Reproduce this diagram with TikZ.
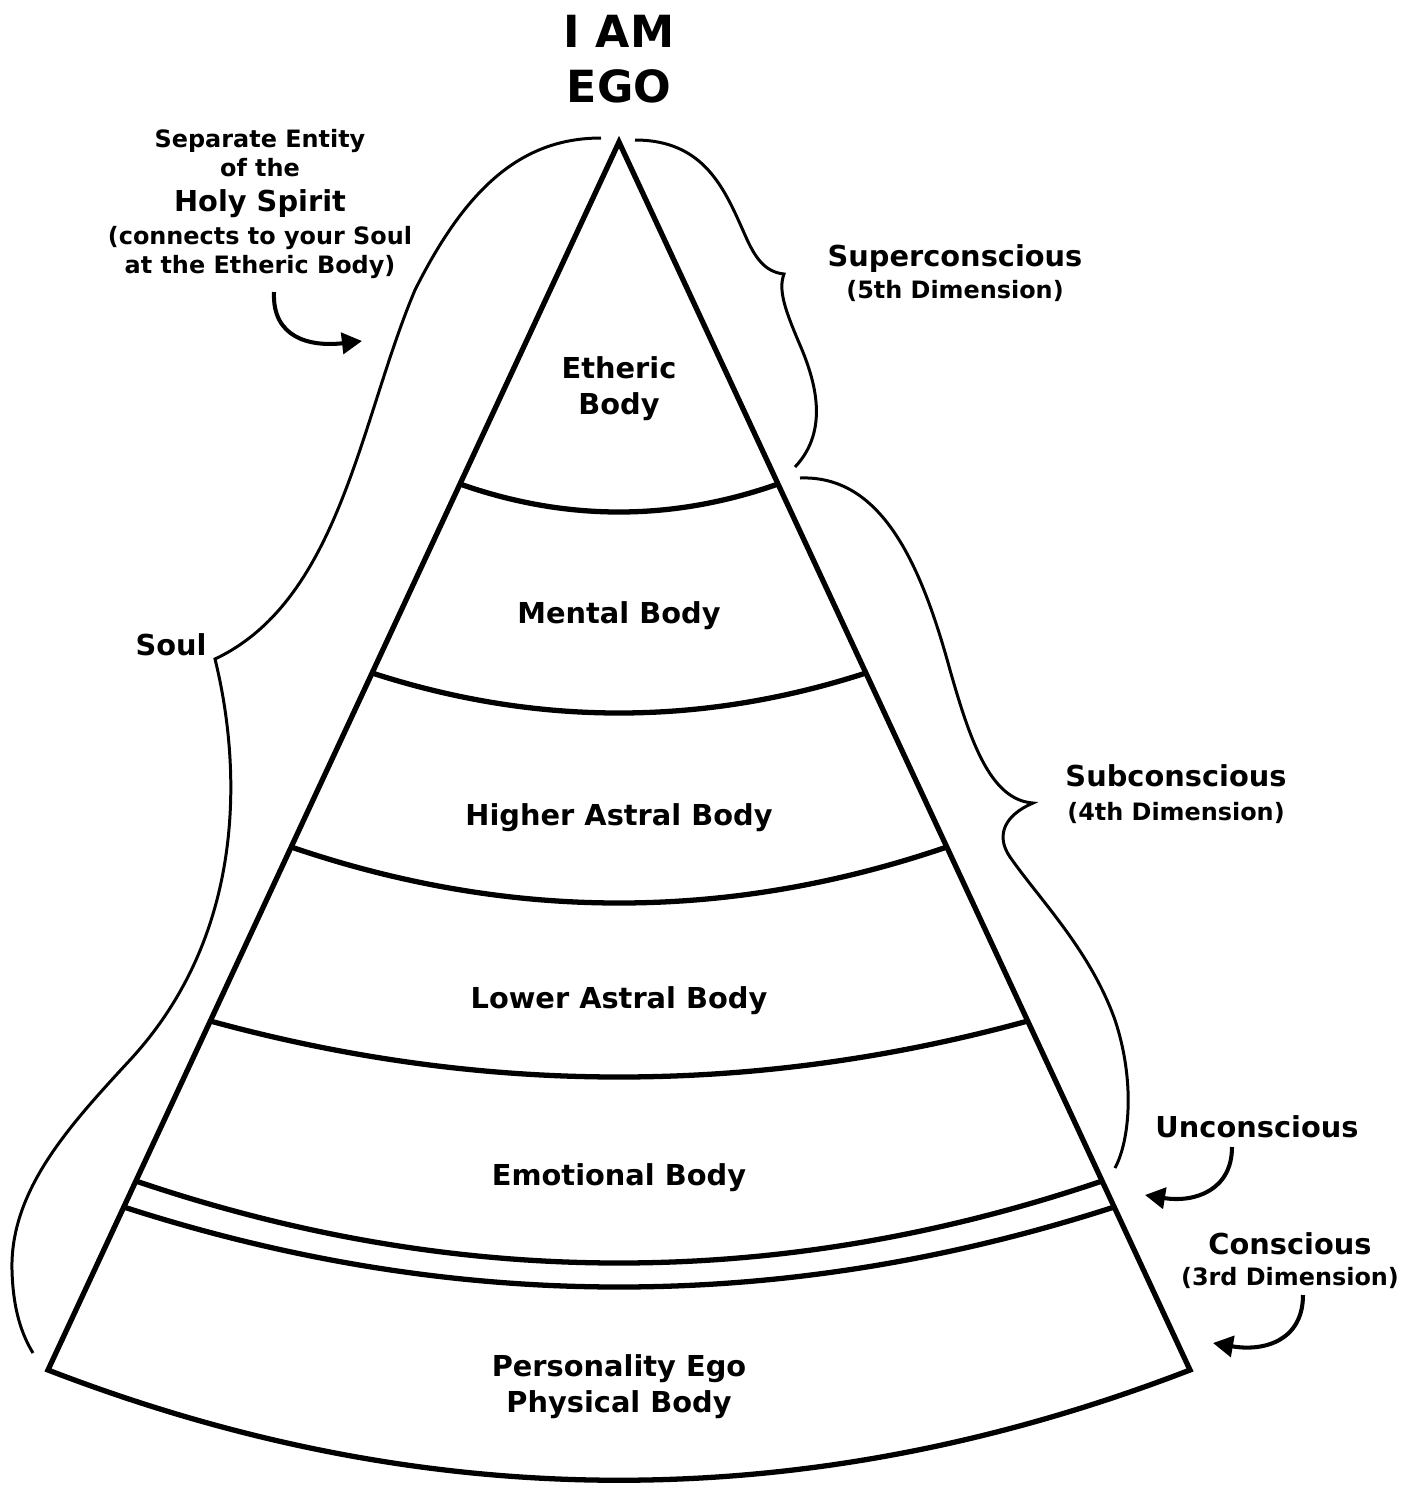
\documentclass[tikz,border=0pt]{standalone}
\usepackage{fontspec}
\setmainfont{DejaVu Sans}
\usetikzlibrary{arrows.meta,positioning}

\newcommand\bigtxt{\fontsize{8.2}{10}\selectfont}
\newcommand\smalltxt{\fontsize{6.8}{8.1}\selectfont}
\newcommand\toptxt{\fontsize{12.6}{15.6}\selectfont}

\tikzset{
  layer/.style={line width=1.5pt, line join=miter},
  bracket/.style={line width=0.85pt},
  pointer/.style={line width=1.15pt, -{Triangle[length=5.7pt,width=6pt]}},
  lbl/.style={font=\bfseries\bigtxt, align=center, anchor=base, inner sep=0pt},
}

\begin{document}
\begin{tikzpicture}[x=0.01cm,y=-0.01cm]
  \useasboundingbox (0,0) rectangle (1418,1487);

  % pyramid outline
  \draw[layer] (619,142) -- (1190,1370) .. controls (809,1517) and (429,1517) .. (48,1370) -- cycle;

  % layer boundaries
  \foreach \yy/\ym in {484/512, 673/713, 847/903, 1021/1077, 1181/1263, 1207/1287}
    \draw[layer] ({619-0.465*(\yy-142)},\yy) .. controls ({619-0.155*(\yy-142)},{\yy+4/3*(\ym-\yy)}) and ({619+0.155*(\yy-142)},{\yy+4/3*(\ym-\yy)}) .. ({619+0.465*(\yy-142)},\yy);

  % body labels (anchored on last line)
  \node[lbl, font=\bfseries\toptxt] (ego) at (619,102) {I AM\\EGO};
  \node[lbl] (etheric) at (619,414) {Etheric\\Body};
  \node[lbl] (mental) at (619,623) {Mental Body};
  \node[lbl] (higher) at (619,825) {Higher Astral Body};
  \node[lbl] (lower) at (619,1008) {Lower Astral Body};
  \node[lbl] (emotional) at (619,1185) {Emotional Body};
  \node[lbl] (physical) at (619,1412) {Personality Ego\\Physical Body};

  % side labels
  \node[lbl] (soul) at (171,655) {Soul};
  \node[lbl] (spirit) at (260,273) {\smalltxt Separate Entity\\[-1.7pt]\smalltxt of the\\\bigtxt Holy Spirit\\[-0.6pt]\smalltxt (connects to your Soul\\[-2pt]\smalltxt at the Etheric Body)};
  \node[lbl] (super) at (955,298) {Superconscious\\[-1.1pt]\smalltxt (5th Dimension)};
  \node[lbl] (sub) at (1176,820) {Subconscious\\[-0.6pt]\smalltxt (4th Dimension)};
  \node[lbl] (uncon) at (1257,1137) {Unconscious};
  \node[lbl] (con) at (1290,1285) {Conscious\\[-1.4pt]\smalltxt (3rd Dimension)};

  % braces
  \draw[bracket] (601,138) .. controls (520,138) and (465,190) .. (415,290) .. controls (360,420) and (340,600) .. (215,659) .. controls (240,760) and (250,930) .. (130,1060) .. controls (70,1125) and (10,1190) .. (12,1270) .. controls (13,1310) and (22,1335) .. (33,1353);
  \draw[bracket] (635,140) .. controls (705,140) and (725,190) .. (745,235) .. controls (755,258) and (765,272) .. (784,274) .. controls (778,290) and (785,310) .. (800,345) .. controls (815,380) and (830,430) .. (795,467);
  \draw[bracket] (800,478) .. controls (880,475) and (920,560) .. (950,670) .. controls (970,740) and (990,800) .. (1033,803) .. controls (1005,815) and (995,835) .. (1010,857) .. controls (1040,900) and (1090,950) .. (1115,1020) .. controls (1135,1080) and (1130,1140) .. (1115,1168);

  % pointers
  \coordinate (spiritfrom) at (274,292);
  \coordinate (spiritto) at (362,341);
  \coordinate (unconfrom) at (1232,1147);
  \coordinate (unconto) at (1145,1195);
  \coordinate (confrom) at (1303,1295);
  \coordinate (conto) at (1213,1343);
  \draw[pointer] (spiritfrom) .. controls (272,338) and (310,347) .. (spiritto);
  \draw[pointer] (unconfrom) .. controls (1232,1190) and (1195,1203) .. (unconto);
  \draw[pointer] (confrom) .. controls (1303,1340) and (1265,1352) .. (conto);
\end{tikzpicture}
\end{document}
